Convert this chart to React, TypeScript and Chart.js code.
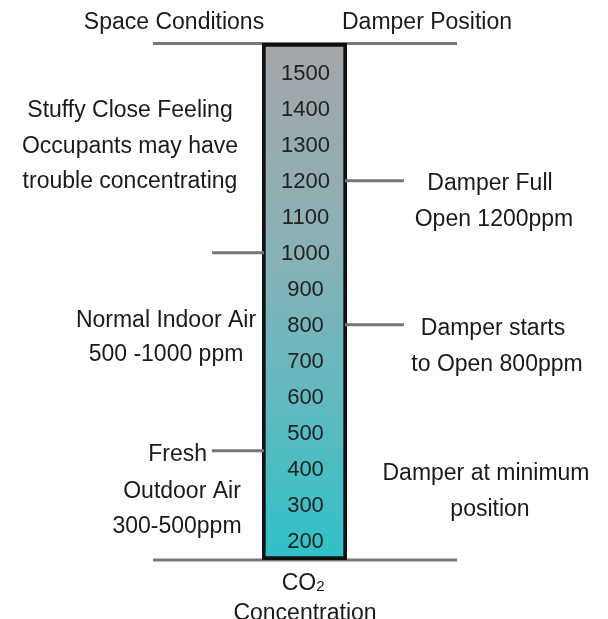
import React, { useEffect, useRef } from "react";
import { Chart, registerables } from "chart.js";

Chart.register(...registerables);

// ---- data ----
const categories = ["CO₂ Concentration"];
const columnRange: [number, number] = [146, 1583];
const tickValues = [200, 300, 400, 500, 600, 700, 800, 900, 1000, 1100, 1200, 1300, 1400, 1500];
const leftMarkers = [1000, 450];
const rightMarkers = [1200, 800];
const headerLeft = "Space Conditions";
const headerRight = "Damper Position";
const stuffyLines = ["Stuffy Close Feeling", "Occupants may have", "trouble concentrating"];
const normalLines = ["Normal Indoor Air", "500 -1000 ppm"];
const freshLines = ["Fresh", "Outdoor Air", "300-500ppm"];
const fullOpenLines = ["Damper Full", "Open 1200ppm"];
const startsLines = ["Damper starts", "to Open 800ppm"];
const minimumLines = ["Damper at minimum", "position"];
const axisTitleLines = ["CO₂", "Concentration"];

const FONT = '"Liberation Sans", Arial, sans-serif';
const TEXT = "#1a1a1a";
const LINE = "#777777";

const diagramPlugin = {
  id: "diagram",
  beforeDatasetsDraw(chart: any) {
    const { ctx } = chart;
    const y = chart.scales.y;
    const top = y.getPixelForValue(columnRange[1]);
    const bottom = y.getPixelForValue(columnRange[0]);
    ctx.save();
    ctx.strokeStyle = LINE;
    ctx.lineWidth = 3;
    ctx.beginPath();
    ctx.moveTo(153, top + 0.5);
    ctx.lineTo(457, top + 0.5);
    ctx.moveTo(153, bottom);
    ctx.lineTo(457, bottom);
    ctx.stroke();
    ctx.restore();
  },
  afterDatasetsDraw(chart: any) {
    const { ctx, chartArea } = chart;
    const y = chart.scales.y;
    ctx.save();
    // marker lines
    ctx.strokeStyle = LINE;
    ctx.lineWidth = 3;
    ctx.beginPath();
    leftMarkers.forEach((v) => {
      const py = y.getPixelForValue(v);
      ctx.moveTo(212, py);
      ctx.lineTo(chartArea.left + 2, py);
    });
    rightMarkers.forEach((v) => {
      const py = y.getPixelForValue(v);
      ctx.moveTo(chartArea.right - 2, py);
      ctx.lineTo(404, py);
    });
    ctx.stroke();

    // tick labels inside column
    ctx.fillStyle = "#222222";
    ctx.font = `22px ${FONT}`;
    ctx.textAlign = "center";
    ctx.textBaseline = "middle";
    const cx = (chartArea.left + chartArea.right) / 2 + 1;
    tickValues.forEach((v) => {
      ctx.fillText(String(v), cx, y.getPixelForValue(v) + 1);
    });

    // texts
    ctx.fillStyle = TEXT;
    ctx.font = `23px ${FONT}`;
    const put = (s: string, x: number, yy: number, align: CanvasTextAlign = "center") => {
      ctx.textAlign = align;
      ctx.fillText(s, x, yy + 1);
    };
    put(headerLeft, 174, 22);
    put(headerRight, 427, 22);
    const sY = [110, 146, 181];
    stuffyLines.forEach((s, i) => put(s, 130, sY[i]));
    const nY = [320, 354];
    normalLines.forEach((s, i) => put(s, 166, nY[i]));
    put(freshLines[0], 207, 454, "right");
    put(freshLines[1], 182, 491);
    put(freshLines[2], 177, 526);
    const fY = [183, 219];
    const fX = [490, 494];
    fullOpenLines.forEach((s, i) => put(s, fX[i], fY[i]));
    const dY = [328, 364];
    const dX = [493, 497];
    startsLines.forEach((s, i) => put(s, dX[i], dY[i]));
    const mY = [473, 509];
    const mX = [486, 490];
    minimumLines.forEach((s, i) => put(s, mX[i], mY[i]));
    put(axisTitleLines[0].replace("₂", ""), 299, 583);
    ctx.font = `14px ${FONT}`;
    ctx.textAlign = "left";
    const coW = (() => {
      ctx.font = `23px ${FONT}`;
      return ctx.measureText("CO").width;
    })();
    ctx.font = `15px ${FONT}`;
    ctx.fillText("2", 299 + coW / 2, 587);
    ctx.font = `23px ${FONT}`;
    put(axisTitleLines[1], 305, 613);
    ctx.restore();
  },
};

export default function App() {
  const ref = useRef<HTMLCanvasElement | null>(null);
  useEffect(() => {
    document.body.style.margin = "0";
    const canvas = ref.current;
    if (!canvas) return;
    const chart = new Chart(canvas, {
      type: "bar",
      data: {
        labels: categories,
        datasets: [
          {
            data: [columnRange as any],
            backgroundColor: (c: any) => {
              const area = c.chart.chartArea;
              if (!area) return "#7fb3b8";
              const g = c.chart.ctx.createLinearGradient(0, area.top, 0, area.bottom);
              g.addColorStop(0, "#a4a6a9");
              g.addColorStop(0.4, "#89b1b6");
              g.addColorStop(0.7, "#5fbac0");
              g.addColorStop(1, "#2fc1c8");
              return g;
            },
            borderColor: "#111111",
            borderWidth: 4,
            borderSkipped: false,
            barPercentage: 1,
            categoryPercentage: 1,
          },
        ],
      },
      options: {
        animation: false,
        responsive: false,
        layout: { padding: { left: 262, right: 261, top: 43, bottom: 59 } },
        plugins: { legend: { display: false }, tooltip: { enabled: false } },
        scales: {
          x: { display: false },
          y: { display: false, min: columnRange[0], max: columnRange[1] },
        },
      },
      plugins: [diagramPlugin],
    });
    return () => chart.destroy();
  }, []);
  return (
    <div style={{ width: 608, height: 619, background: "#ffffff" }}>
      <canvas ref={ref} width={608} height={619} />
    </div>
  );
}
